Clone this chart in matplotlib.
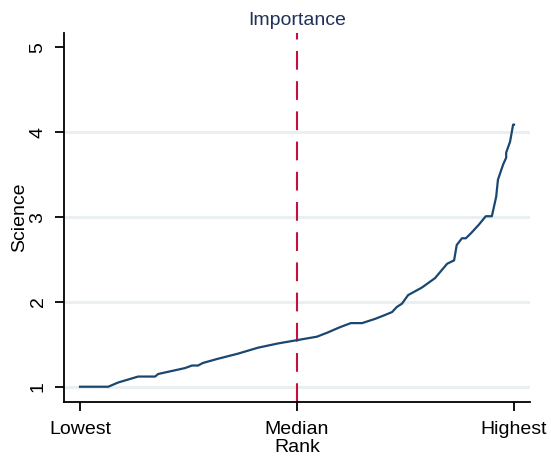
import matplotlib
matplotlib.use("Agg")
import matplotlib.pyplot as plt

plt.rcParams["font.family"] = ["Liberation Sans", "DejaVu Sans"]

# Ranked science scores (rank expressed as fraction from lowest to highest)
rank = [0.000, 0.065, 0.088, 0.134, 0.173, 0.180, 0.242, 0.258, 0.272,
        0.283, 0.318, 0.364, 0.410, 0.456, 0.546, 0.571, 0.598, 0.624,
        0.650, 0.680, 0.700, 0.719, 0.730, 0.742, 0.756, 0.788, 0.818,
        0.818, 0.846, 0.862, 0.868, 0.880, 0.889, 0.901, 0.919, 0.935,
        0.949, 0.959, 0.963, 0.975, 0.982, 0.982, 0.991, 0.998, 1.000]
science = [1.00, 1.00, 1.05, 1.12, 1.12, 1.15, 1.22, 1.25, 1.25,
           1.28, 1.33, 1.39, 1.46, 1.51, 1.59, 1.64, 1.70, 1.75,
           1.75, 1.80, 1.84, 1.88, 1.94, 1.98, 2.08, 2.17, 2.28,
           2.28, 2.45, 2.49, 2.67, 2.75, 2.75, 2.81, 2.91, 3.01,
           3.01, 3.24, 3.44, 3.62, 3.70, 3.76, 3.89, 4.09, 4.09]

x_ticks = [0.0, 0.5, 1.0]
x_labels = ["Lowest", "Median", "Highest"]
y_ticks = [1, 2, 3, 4, 5]
grid_levels = [1, 2, 3, 4]
median_rank = 0.5

navy = "#1a476f"
title_navy = "#22315a"
cranberry = "#c4103e"
fs = 14

fig = plt.figure(figsize=(5.51, 4.59), dpi=100)
ax = fig.add_axes([64 / 551, 1 - 402 / 459, (530 - 64) / 551, (402 - 33) / 459])

for g in grid_levels:
    ax.axhline(g, color="#eaf0f2", lw=2.2, zorder=0)

ax.plot(rank, science, color=navy, lw=1.6, zorder=3)

ax.axvline(median_rank, color=cranberry, lw=1.5, dashes=(9, 5.5), zorder=2)
ax.text(median_rank, 1.012, "Importance", transform=ax.get_xaxis_transform(),
        ha="center", va="bottom", fontsize=fs, color=title_navy)

ax.set_xlim(-0.0369, 1.0369)
ax.set_ylim(0.82, 5.17)

ax.set_xticks(x_ticks)
ax.set_xticklabels(x_labels)
ax.set_yticks(y_ticks)
ax.set_yticklabels([str(v) for v in y_ticks], rotation=90, va="center")

ax.tick_params(axis="both", direction="out", length=6.5, width=1.3,
               labelsize=fs, colors="black")
ax.tick_params(axis="x", pad=7)
ax.tick_params(axis="y", pad=6)

for side in ("top", "right"):
    ax.spines[side].set_visible(False)
for side in ("left", "bottom"):
    ax.spines[side].set_linewidth(1.3)

ax.set_xlabel("Rank", fontsize=fs, labelpad=1)
ax.set_ylabel("Science", fontsize=fs, labelpad=1)

fig.savefig("out.png", dpi=100)
